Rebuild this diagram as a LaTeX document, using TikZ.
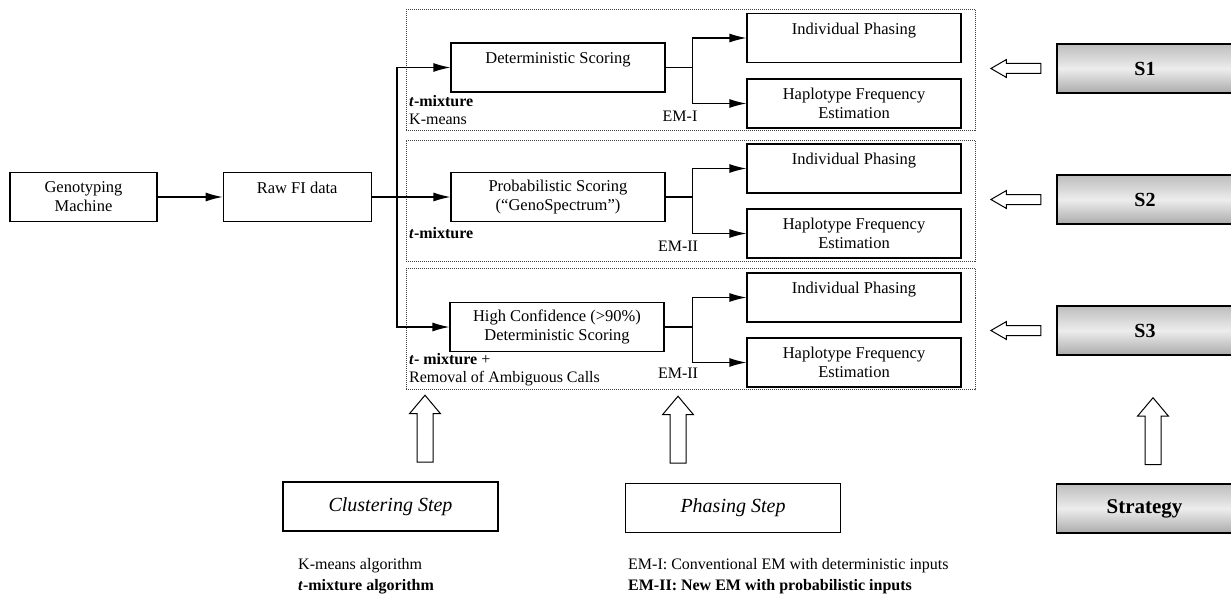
\documentclass[tikz,border=0pt]{standalone}
\usepackage{fontspec}
\setmainfont{Liberation Serif}
\usetikzlibrary{positioning,arrows.meta,shapes.arrows}

\begin{document}
\begin{tikzpicture}[x=1pt,y=-1pt]
\tikzset{
    box/.style={rectangle, draw, line width=1.2pt, minimum width=214pt, minimum height=49pt, align=center, inner sep=2pt, font=\fontsize{16.5}{19}\selectfont},
    frame/.style={rectangle, draw=black!75, line width=0.9pt, dash pattern=on 1pt off 1pt, minimum width=569pt, minimum height=121pt},
    strat/.style={rectangle, draw, line width=1.2pt, minimum width=176pt, minimum height=49pt, top color=black!26, bottom color=black!33, middle color=black!7, font=\fontsize{20}{24}\selectfont\bfseries},
    stepbox/.style={rectangle, draw, line width=1.2pt, minimum width=215pt, minimum height=49pt, font=\fontsize{20}{22}\selectfont\itshape},
    edge/.style={-{Latex[length=17pt,width=9pt]}, line width=1.2pt},
    link/.style={line width=1.2pt},
    tag/.style={align=left, inner sep=0pt, font=\fontsize{16}{18}\selectfont},
    note/.style={align=left, inner sep=0pt, anchor=west, font=\fontsize{16}{21}\selectfont},
    sidearrow/.style={single arrow, draw, line width=1pt, inner sep=0pt, text height=9pt, text depth=0pt, minimum height=50pt, minimum width=17pt, single arrow head extend=4pt, single arrow tip angle=60, shape border rotate=180},
    uparrow/.style={single arrow, draw, line width=1pt, inner sep=0pt, text width=15pt, text height=0pt, text depth=0pt, minimum height=67pt, minimum width=30pt, single arrow head extend=7.5pt, single arrow tip angle=80, shape border rotate=90}
}
\useasboundingbox (0,0) rectangle (1231,599);

% input side
\node[box, minimum width=147pt] (gen) at (83.5,197) {Genotyping\\Machine};
\node[box, minimum width=148pt, right=65pt of gen] (raw) {Raw FI data\\\mbox{}};

% the three strategy frames
\node[frame] (f1) at (690.5,70) {};
\node[frame] (f2) at (690.5,200.5) {};
\node[frame] (f3) at (690.5,329) {};

% scoring boxes
\node[box] (det) at (558,67.5) {Deterministic Scoring\\\mbox{}};
\node[box] (prob) at (558,197) {Probabilistic Scoring\\(“GenoSpectrum”)};
\node[box] (conf) at (557,327) {High Confidence (>90\%)\\Deterministic Scoring};

% phasing boxes
\node[box] (ind1) at (854,38) {Individual Phasing\\\mbox{}};
\node[box] (hap1) at (854,103.5) {Haplotype Frequency\\Estimation};
\node[box] (ind2) at (854,168.5) {Individual Phasing\\\mbox{}};
\node[box] (hap2) at (854,233.5) {Haplotype Frequency\\Estimation};
\node[box] (ind3) at (854,297.5) {Individual Phasing\\\mbox{}};
\node[box] (hap3) at (854,362.5) {Haplotype Frequency\\Estimation};

% clustering labels inside the frames
\node[tag, anchor=west] (lab1) at (409,110) {\textbf{\textit{t}-mixture}\\K-means};
\node[tag, anchor=west] (lab2) at (409,233) {\textbf{\textit{t}-mixture}};
\node[tag, anchor=west] (lab3) at (409,369.5) {\textbf{\textit{t}- mixture} +\\Removal of Ambiguous Calls};

\node[tag] (em1) at (680,116) {EM-I};
\node[tag] (em2) at (678,246) {EM-II};
\node[tag] (em3) at (678,373) {EM-II};

% strategies
\node[strat] (s1) at (1145,68.5) {S1};
\node[strat] (s2) at (1145,199.5) {S2};
\node[strat] (s3) at (1145,330.5) {S3};

\node[sidearrow, left=15pt of s1] (h1) {};
\node[sidearrow, left=15pt of s2] (h2) {};
\node[sidearrow, left=15pt of s3] (h3) {};

% steps
\node[stepbox] (clus) at (390.5,506.5) {Clustering Step};
\node[stepbox] (phas) at (733,508) {Phasing Step};
\node[strat, font=\fontsize{21}{24}\selectfont\bfseries] (strategy) at (1144.5,508.5) {Strategy};

\node[uparrow] (u1) at (425,433.5) {};
\node[uparrow] (u2) at (678,434.5) {};
\node[uparrow] (u3) at (1153,436) {};

\node[note] (algs) at (298,576.5) {K-means algorithm\\\textbf{\textit{t}-mixture algorithm}};
\node[note] (ems) at (628,576.5) {EM-I: Conventional EM with deterministic inputs\\\textbf{EM-II: New EM with probabilistic inputs}};

% connectors
\draw[edge] (gen) -- (raw);
\draw[edge] (raw.east |- prob.west) -- (prob.west);
\coordinate (split) at (397,197);
\draw[edge] (split) |- (det.west);
\draw[edge] (split) |- (conf.west);

\draw[link] (det.east) -- ++(27,0) coordinate (j1);
\draw[edge] (j1) |- (ind1.west);
\draw[edge] (j1) |- (hap1.west);
\draw[link] (prob.east) -- ++(27,0) coordinate (j2);
\draw[edge] (j2) |- (ind2.west);
\draw[edge] (j2) |- (hap2.west);
\draw[link] (conf.east) -- ++(28,0) coordinate (j3);
\draw[edge] (j3) |- (ind3.west);
\draw[edge] (j3) |- (hap3.west);
\end{tikzpicture}
\end{document}
